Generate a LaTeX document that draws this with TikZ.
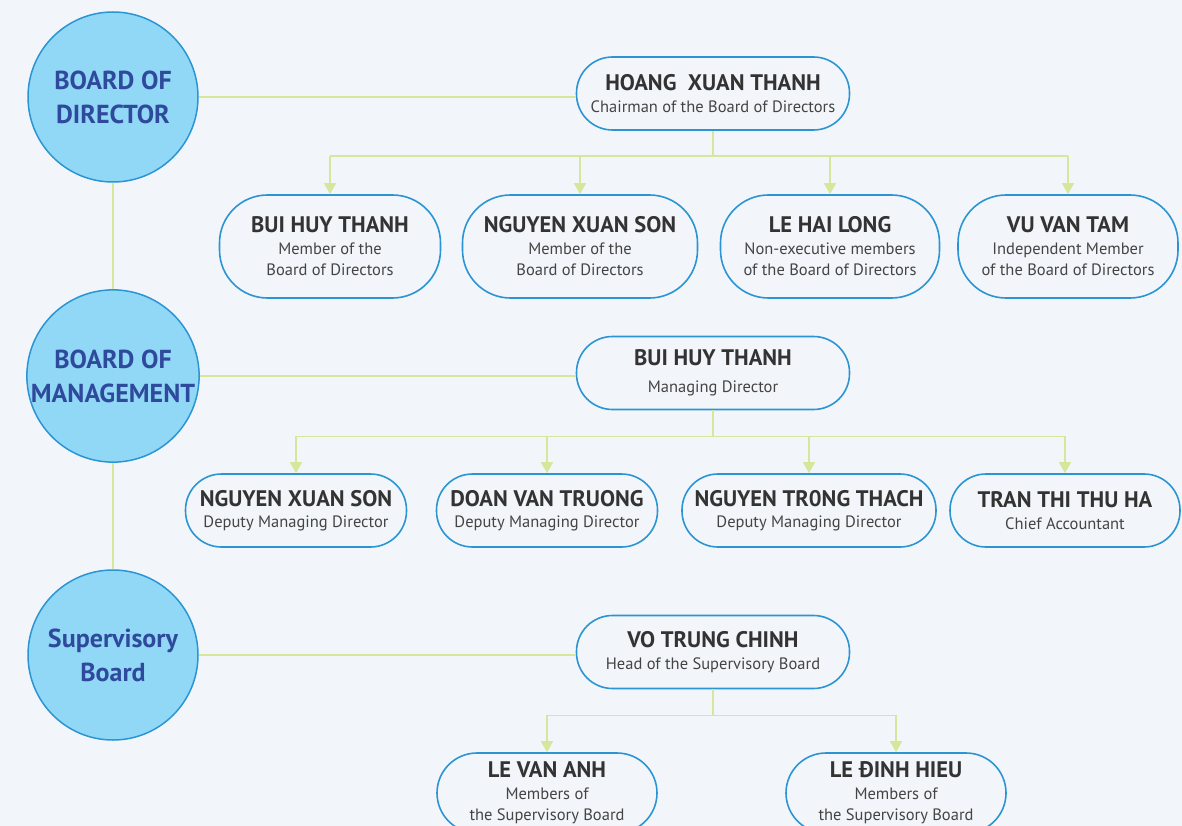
\documentclass[tikz,border=0pt]{standalone}
\usepackage{fontspec}
\setmainfont{PT Sans}
\usetikzlibrary{arrows.meta}
\definecolor{bg}{HTML}{F2F6FA}
\definecolor{circfill}{HTML}{90D8F6}
\definecolor{boxline}{HTML}{2B95D4}
\definecolor{circtext}{HTML}{2F4A9C}
\definecolor{linecol}{HTML}{D5E79B}
\definecolor{nametext}{HTML}{333333}
\definecolor{roletext}{HTML}{444444}
\newcommand{\nm}[1]{{\fontsize{22.5}{22}\selectfont\bfseries\color{nametext}#1}}
\tikzset{
  circ/.style={circle, fill=circfill, draw=boxline, line width=1.5pt, minimum size=170pt, inner sep=0pt, align=center, text=circtext, font=\fontsize{26}{34}\selectfont\bfseries},
  pbox/.style={draw=boxline, line width=1.6pt, fill=bg, inner sep=0pt, align=center, text=roletext, font=\fontsize{16.5}{21.5}\selectfont},
  twol/.style={pbox, minimum height=73pt, rounded corners=36pt},
  threel/.style={pbox, minimum height=103pt, rounded corners=48pt},
  conn/.style={draw=linecol, line width=1.6pt},
  arr/.style={conn, -{Triangle[width=12pt,length=11pt]}, fill=linecol}
}
\begin{document}
\begin{tikzpicture}[x=1pt,y=-1pt]
\useasboundingbox (0,0) rectangle (1182,826);
\fill[bg] (0,0) rectangle (1182,826);
\clip (0,0) rectangle (1182,826);

% circles
\node[circ] (c1) at (113,97) {BOARD OF\\DIRECTOR};
\node[circ] (c2) at (113,376) {BOARD OF\\MANAGEMENT};
\node[circ] (c3) at (113,655) {Supervisory\\Board};
\draw[conn] (c1.south) -- (c2.north);
\draw[conn] (c2.south) -- (c3.north);

% board of directors
\node[twol, minimum width=273pt] (h1) at (713,93.5) {\nm{HOANG\ \ XUAN THANH}\\Chairman of the Board of Directors};
\node[threel, minimum width=221pt] (m11) at (330,246.5) {\nm{BUI HUY THANH}\\Member of the\\Board of Directors};
\node[threel, minimum width=235pt] (m12) at (580,246.5) {\nm{NGUYEN XUAN SON}\\Member of the\\Board of Directors};
\node[threel, minimum width=219pt] (m13) at (830,246.5) {\nm{LE HAI LONG}\\Non-executive members\\of the Board of Directors};
\node[threel, minimum width=220pt] (m14) at (1068,246.5) {\nm{VU VAN TAM}\\Independent Member\\of the Board of Directors};
\draw[conn] (c1.east) -- (c1.east -| h1.west);
\draw[conn] (h1.south) -- ++(0,25) coordinate (j1);
\draw[conn] (j1 -| m11.north) -- (j1 -| m14.north);
\foreach \n in {m11,m12,m13,m14} \draw[arr] (j1 -| \n.north) -- (\n.north);

% board of management
\node[twol, minimum width=273pt] (h2) at (713,373) {\nm{BUI HUY THANH}\\[6pt]Managing Director};
\node[twol, minimum width=221pt] (m21) at (296,510.5) {\nm{NGUYEN XUAN SON}\\Deputy Managing Director};
\node[twol, minimum width=221pt] (m22) at (547,510.5) {\nm{DOAN VAN TRUONG}\\Deputy Managing Director};
\node[twol, minimum width=254pt] (m23) at (809,510.5) {\nm{NGUYEN TR0NG THACH}\\Deputy Managing Director};
\node[twol, minimum width=230pt] (m24) at (1065,510.5) {\nm{TRAN THI THU HA}\\Chief Accountant};
\draw[conn] (c2.east) -- (c2.east -| h2.west);
\draw[conn] (h2.south) -- ++(0,26) coordinate (j2);
\draw[conn] (j2 -| m21.north) -- (j2 -| m24.north);
\foreach \n in {m21,m22,m23,m24} \draw[arr] (j2 -| \n.north) -- (\n.north);

% supervisory board
\node[twol, minimum width=273pt] (h3) at (713,652) {\nm{VO TRUNG CHINH}\\Head of the Supervisory Board};
\node[pbox, minimum height=80pt, rounded corners=40pt, minimum width=220pt] (m31) at (547,793) {\nm{LE VAN ANH}\\Members of\\the Supervisory Board};
\node[pbox, minimum height=80pt, rounded corners=40pt, minimum width=220pt] (m32) at (896,793) {\nm{LE ĐINH HIEU}\\Members of\\the Supervisory Board};
\draw[conn] (c3.east) -- (c3.east -| h3.west);
\draw[conn] (h3.south) -- ++(0,26) coordinate (j3);
\draw[conn] (j3 -| m31.north) -- (j3 -| m32.north);
\foreach \n in {m31,m32} \draw[arr] (j3 -| \n.north) -- (\n.north);
\end{tikzpicture}
\end{document}
